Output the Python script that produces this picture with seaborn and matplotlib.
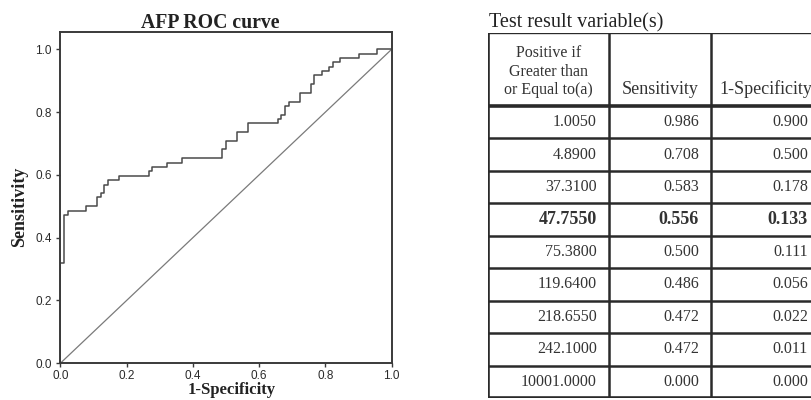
import matplotlib
matplotlib.use("Agg")
import matplotlib.pyplot as plt
import seaborn as sns
import pandas as pd

# ---- ROC curve vertices (1-Specificity, Sensitivity) ----
fpr = [0.0, 0.0, 0.011, 0.011, 0.022, 0.022, 0.078, 0.078, 0.111, 0.111, 0.122, 0.122,
       0.133, 0.133, 0.133, 0.144, 0.144, 0.178, 0.178, 0.267, 0.267, 0.278, 0.278,
       0.322, 0.322, 0.367, 0.367, 0.489, 0.489, 0.5, 0.5, 0.533, 0.533, 0.567, 0.567,
       0.656, 0.656, 0.667, 0.667, 0.678, 0.678, 0.689, 0.689, 0.722, 0.722, 0.756,
       0.756, 0.767, 0.767, 0.789, 0.789, 0.811, 0.811, 0.822, 0.822, 0.844, 0.844,
       0.9, 0.9, 0.956, 0.956, 1.0]
tpr = [0.0, 0.319, 0.319, 0.472, 0.472, 0.486, 0.486, 0.5, 0.5, 0.528, 0.528, 0.542,
       0.542, 0.556, 0.569, 0.569, 0.583, 0.583, 0.597, 0.597, 0.611, 0.611, 0.625,
       0.625, 0.639, 0.639, 0.653, 0.653, 0.681, 0.681, 0.708, 0.708, 0.736, 0.736,
       0.764, 0.764, 0.778, 0.778, 0.792, 0.792, 0.819, 0.819, 0.833, 0.833, 0.861,
       0.861, 0.889, 0.889, 0.917, 0.917, 0.931, 0.931, 0.944, 0.944, 0.958, 0.958,
       0.972, 0.972, 0.986, 0.986, 1.0, 1.0]
ref_x = [0.0, 1.0]
ref_y = [0.0, 1.0]

x_ticks = [0.0, 0.2, 0.4, 0.6, 0.8, 1.0]
y_ticks = [0.0, 0.2, 0.4, 0.6, 0.8, 1.0]
tick_labels = ["0.0", "0.2", "0.4", "0.6", "0.8", "1.0"]

# ---- table ----
table_title = "Test result variable(s)"
col_headers = ["Positive if\nGreater than\nor Equal to(a)", "Sensitivity", "1-Specificity"]
cutoffs = ["1.0050", "4.8900", "37.3100", "47.7550", "75.3800", "119.6400",
           "218.6550", "242.1000", "10001.0000"]
sens_vals = ["0.986", "0.708", "0.583", "0.556", "0.500", "0.486", "0.472", "0.472", "0.000"]
spec_vals = ["0.900", "0.500", "0.178", "0.133", "0.111", "0.056", "0.022", "0.011", "0.000"]
bold_row = 3

sns.set_theme(style="white")
plt.rcParams["font.family"] = ["Liberation Sans", "DejaVu Sans"]

W, H = 811, 400
fig = plt.figure(figsize=(W / 100, H / 100), dpi=100)
fig.patch.set_facecolor("white")

# ---------------- ROC axes ----------------
ax = fig.add_axes([60.3 / W, 1 - 363.3 / H, 331.4 / W, 331 / H])
roc_df = pd.DataFrame({"fpr": fpr, "tpr": tpr})
ref_df = pd.DataFrame({"x": ref_x, "y": ref_y})
sns.lineplot(data=ref_df, x="x", y="y", ax=ax, color="#7a7a7a", linewidth=0.9,
             sort=False, estimator=None)
sns.lineplot(data=roc_df, x="fpr", y="tpr", ax=ax, color="#4a4a4a", linewidth=1.1,
             sort=False, estimator=None)
ax.set_xlim(0, 1.0)
ax.set_ylim(0, 1.054)
ax.set_xticks(x_ticks)
ax.set_yticks(y_ticks)
ax.set_xticklabels(tick_labels)
ax.set_yticklabels(tick_labels)
ax.set_xlabel("")
ax.set_ylabel("")
for s in ax.spines.values():
    s.set_visible(True)
    s.set_color("#3a3a3a")
    s.set_linewidth(1.4)
ax.tick_params(axis="both", direction="out", length=3, width=1.0, color="#3a3a3a",
               labelsize=8.5, labelcolor="#2a2a2a", bottom=True, left=True)
ax.tick_params(axis="x", pad=1.5)
ax.tick_params(axis="y", pad=3)
ax.grid(False)

serif = ["Liberation Serif", "DejaVu Serif"]
fig.text(210 / W, 1 - 28 / H, "AFP ROC curve", family=serif, fontweight="bold",
         fontsize=14.2, ha="center", va="baseline", color="#222222")
fig.text(232 / W, 1 - 382 / H, "1-Specificity", family=serif, fontweight="bold",
         fontsize=12, ha="center", va="top", color="#222222")
fig.text(20 / W, 1 - 207 / H, "Sensitivity", family=serif, fontweight="bold",
         fontsize=13, ha="center", va="center", rotation=90, color="#222222")

# ---------------- table axes ----------------
tx0, tx1 = 488, 820
ty0, ty1 = 33, 398
tax = fig.add_axes([tx0 / W, 1 - ty1 / H, (tx1 - tx0) / W, (ty1 - ty0) / H])
tax.set_xlim(0, tx1 - tx0)
tax.set_ylim(ty1 - ty0, 0)
tax.axis("off")

col_edges = [0, 121, 223, 332]
header_h = 73
row_h = (ty1 - ty0 - header_h) / len(cutoffs)
line_c = "#2a2a2a"

# horizontal lines
tax.plot([0, 332], [0, 0], color=line_c, lw=1.7, solid_capstyle="butt")
tax.plot([0, 332], [header_h, header_h], color=line_c, lw=2.6, solid_capstyle="butt")
for i in range(1, len(cutoffs) + 1):
    yv = header_h + i * row_h
    lw = 2.6 if i == len(cutoffs) else 1.8
    tax.plot([0, 332], [yv, yv], color=line_c, lw=lw, solid_capstyle="butt")
# vertical lines
tax.plot([col_edges[0], col_edges[0]], [0, ty1 - ty0], color=line_c, lw=2.6)
for xe in col_edges[1:3]:
    tax.plot([xe, xe], [0, ty1 - ty0], color=line_c, lw=1.8)

# header texts
tax.text((col_edges[0] + col_edges[1]) / 2, 61, col_headers[0], family=serif,
         fontsize=11.5, ha="center", va="baseline", linespacing=1.2, color="#333333")
tax.text((col_edges[1] + col_edges[2]) / 2, 61, col_headers[1], family=serif,
         fontsize=13, ha="center", va="baseline", color="#333333")
tax.text(col_edges[2] + 8, 61, col_headers[2], family=serif,
         fontsize=13, ha="left", va="baseline", color="#333333")

# body
for i, (c, s, p) in enumerate(zip(cutoffs, sens_vals, spec_vals)):
    yc = header_h + (i + 0.5) * row_h
    fw = "bold" if i == bold_row else "normal"
    fs = 13 if i == bold_row else 11.5
    for val, xe in zip([c, s, p], col_edges[1:]):
        tax.text(xe - 12, yc, val, family=serif, fontsize=fs, fontweight=fw,
                 ha="right", va="center", color="#333333")

fig.text(489 / W, 1 - 27 / H, table_title, family=serif, fontsize=14.5,
         ha="left", va="baseline", color="#222222")

fig.savefig("out.png", dpi=100, facecolor="white")
